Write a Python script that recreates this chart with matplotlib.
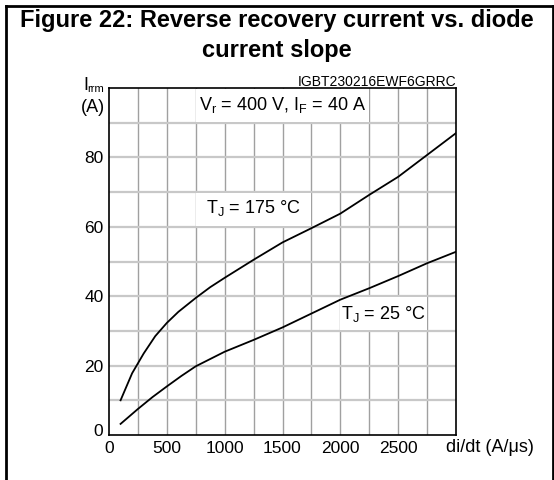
import matplotlib
matplotlib.use("Agg")
import matplotlib.pyplot as plt
from matplotlib.patches import Rectangle
from matplotlib.lines import Line2D
from matplotlib.transforms import ScaledTranslation

plt.rcParams['font.family'] = ['Liberation Sans', 'DejaVu Sans']
plt.rcParams['mathtext.fontset'] = 'custom'
plt.rcParams['mathtext.rm'] = 'Liberation Sans'

# data
didt_175 = [100, 200, 300, 400, 500, 600, 750, 875, 1000, 1250, 1500, 1750, 2000, 2250, 2500, 2750, 3000]
irrm_175 = [10, 17.8, 23.5, 28.5, 32.3, 35.5, 39.5, 42.6, 45.3, 50.5, 55.5, 59.6, 63.8, 69.2, 74.4, 80.7, 87]
didt_25 = [100, 250, 375, 500, 625, 750, 1000, 1250, 1500, 1750, 2000, 2250, 2500, 2750, 3000]
irrm_25 = [3.2, 7.5, 10.9, 14, 17, 19.8, 24, 27.4, 31, 35, 39, 42.3, 45.8, 49.5, 52.8]
xticks = [0, 500, 1000, 1500, 2000, 2500]
yticks = [0, 20, 40, 60, 80]

fig = plt.figure(figsize=(5.54, 4.80), dpi=100)
ax = fig.add_axes([109/554, 1-435/480, (456-109)/554, (435-88)/480])

ax.set_xlim(0, 3000)
ax.set_ylim(0, 100)

# grid
for gx in range(250, 3000, 250):
    ax.axvline(gx, color='#a0a0a0', lw=1.0, zorder=1)
for gy in range(10, 100, 10):
    ax.axhline(gy, color='#c8c8c8', lw=1.6, zorder=1)

# label boxes masking the grid
for (x0, y0, w, h) in [(750, 90, 1500, 10), (750, 60, 1000, 10), (2000, 30, 750, 10)]:
    ax.add_patch(Rectangle((x0, y0 + 0.25), w, h - 0.5, facecolor='white', edgecolor='none', zorder=2))

ax.plot(didt_175, irrm_175, color='black', lw=1.3, zorder=3)
ax.plot(didt_25, irrm_25, color='black', lw=1.3, zorder=3)

ax.text(1500, 95, r'V$_\mathregular{r}$ = 400 V, I$_\mathregular{F}$ = 40 A', ha='center', va='center', fontsize=13, zorder=4)
ax.text(1250, 65.3, r'T$_\mathregular{J}$ = 175 °C', ha='center', va='center', fontsize=13, zorder=4)
ax.text(2375, 35, r'T$_\mathregular{J}$ = 25 °C', ha='center', va='center', fontsize=13, zorder=4)

ax.set_xticks(xticks)
ax.set_xticklabels([str(v) for v in xticks])
ax.set_yticks(yticks)
ax.set_yticklabels([str(v) for v in yticks])
ax.tick_params(length=0, labelsize=12.5)
ax.tick_params(axis='x', pad=4)
ax.tick_params(axis='y', pad=4)
ylabs = ax.get_yticklabels()
ylabs[0].set_transform(ylabs[0].get_transform() + ScaledTranslation(0, 5/100, fig.dpi_scale_trans))

for s in ax.spines.values():
    s.set_color('black')
    s.set_linewidth(1.2)
    s.set_zorder(5)

# axis label texts
fig.text(446/554, 1-447/480, 'di/dt (A/μs)', ha='left', va='center', fontsize=13)
fig.text(83/554, 1-90/480, 'I', ha='left', va='baseline', fontsize=13)
fig.text(87.5/554, 1-92/480, 'rrm', ha='left', va='baseline', fontsize=8)
fig.text(93/554, 1-107/480, '(A)', ha='center', va='center', fontsize=13)
fig.text(456/554, 1-86/480, 'IGBT230216EWF6GRRC', ha='right', va='baseline', fontsize=10)

# title
fig.text(0.5, 1-21/480, 'Figure 22: Reverse recovery current vs. diode', ha='center', va='center', fontsize=17, fontweight='bold')
fig.text(0.5, 1-50/480, 'current slope', ha='center', va='center', fontsize=17, fontweight='bold')

# frame
fig.add_artist(Line2D([5.5/554, 5.5/554], [0, 1-5.5/480], transform=fig.transFigure, color='black', lw=2))
fig.add_artist(Line2D([5.5/554, 1], [1-5.5/480, 1-5.5/480], transform=fig.transFigure, color='black', lw=2))
fig.add_artist(Line2D([552.5/554, 552.5/554], [0, 1-5.5/480], transform=fig.transFigure, color='black', lw=2))

fig.savefig('out.png', dpi=100)
